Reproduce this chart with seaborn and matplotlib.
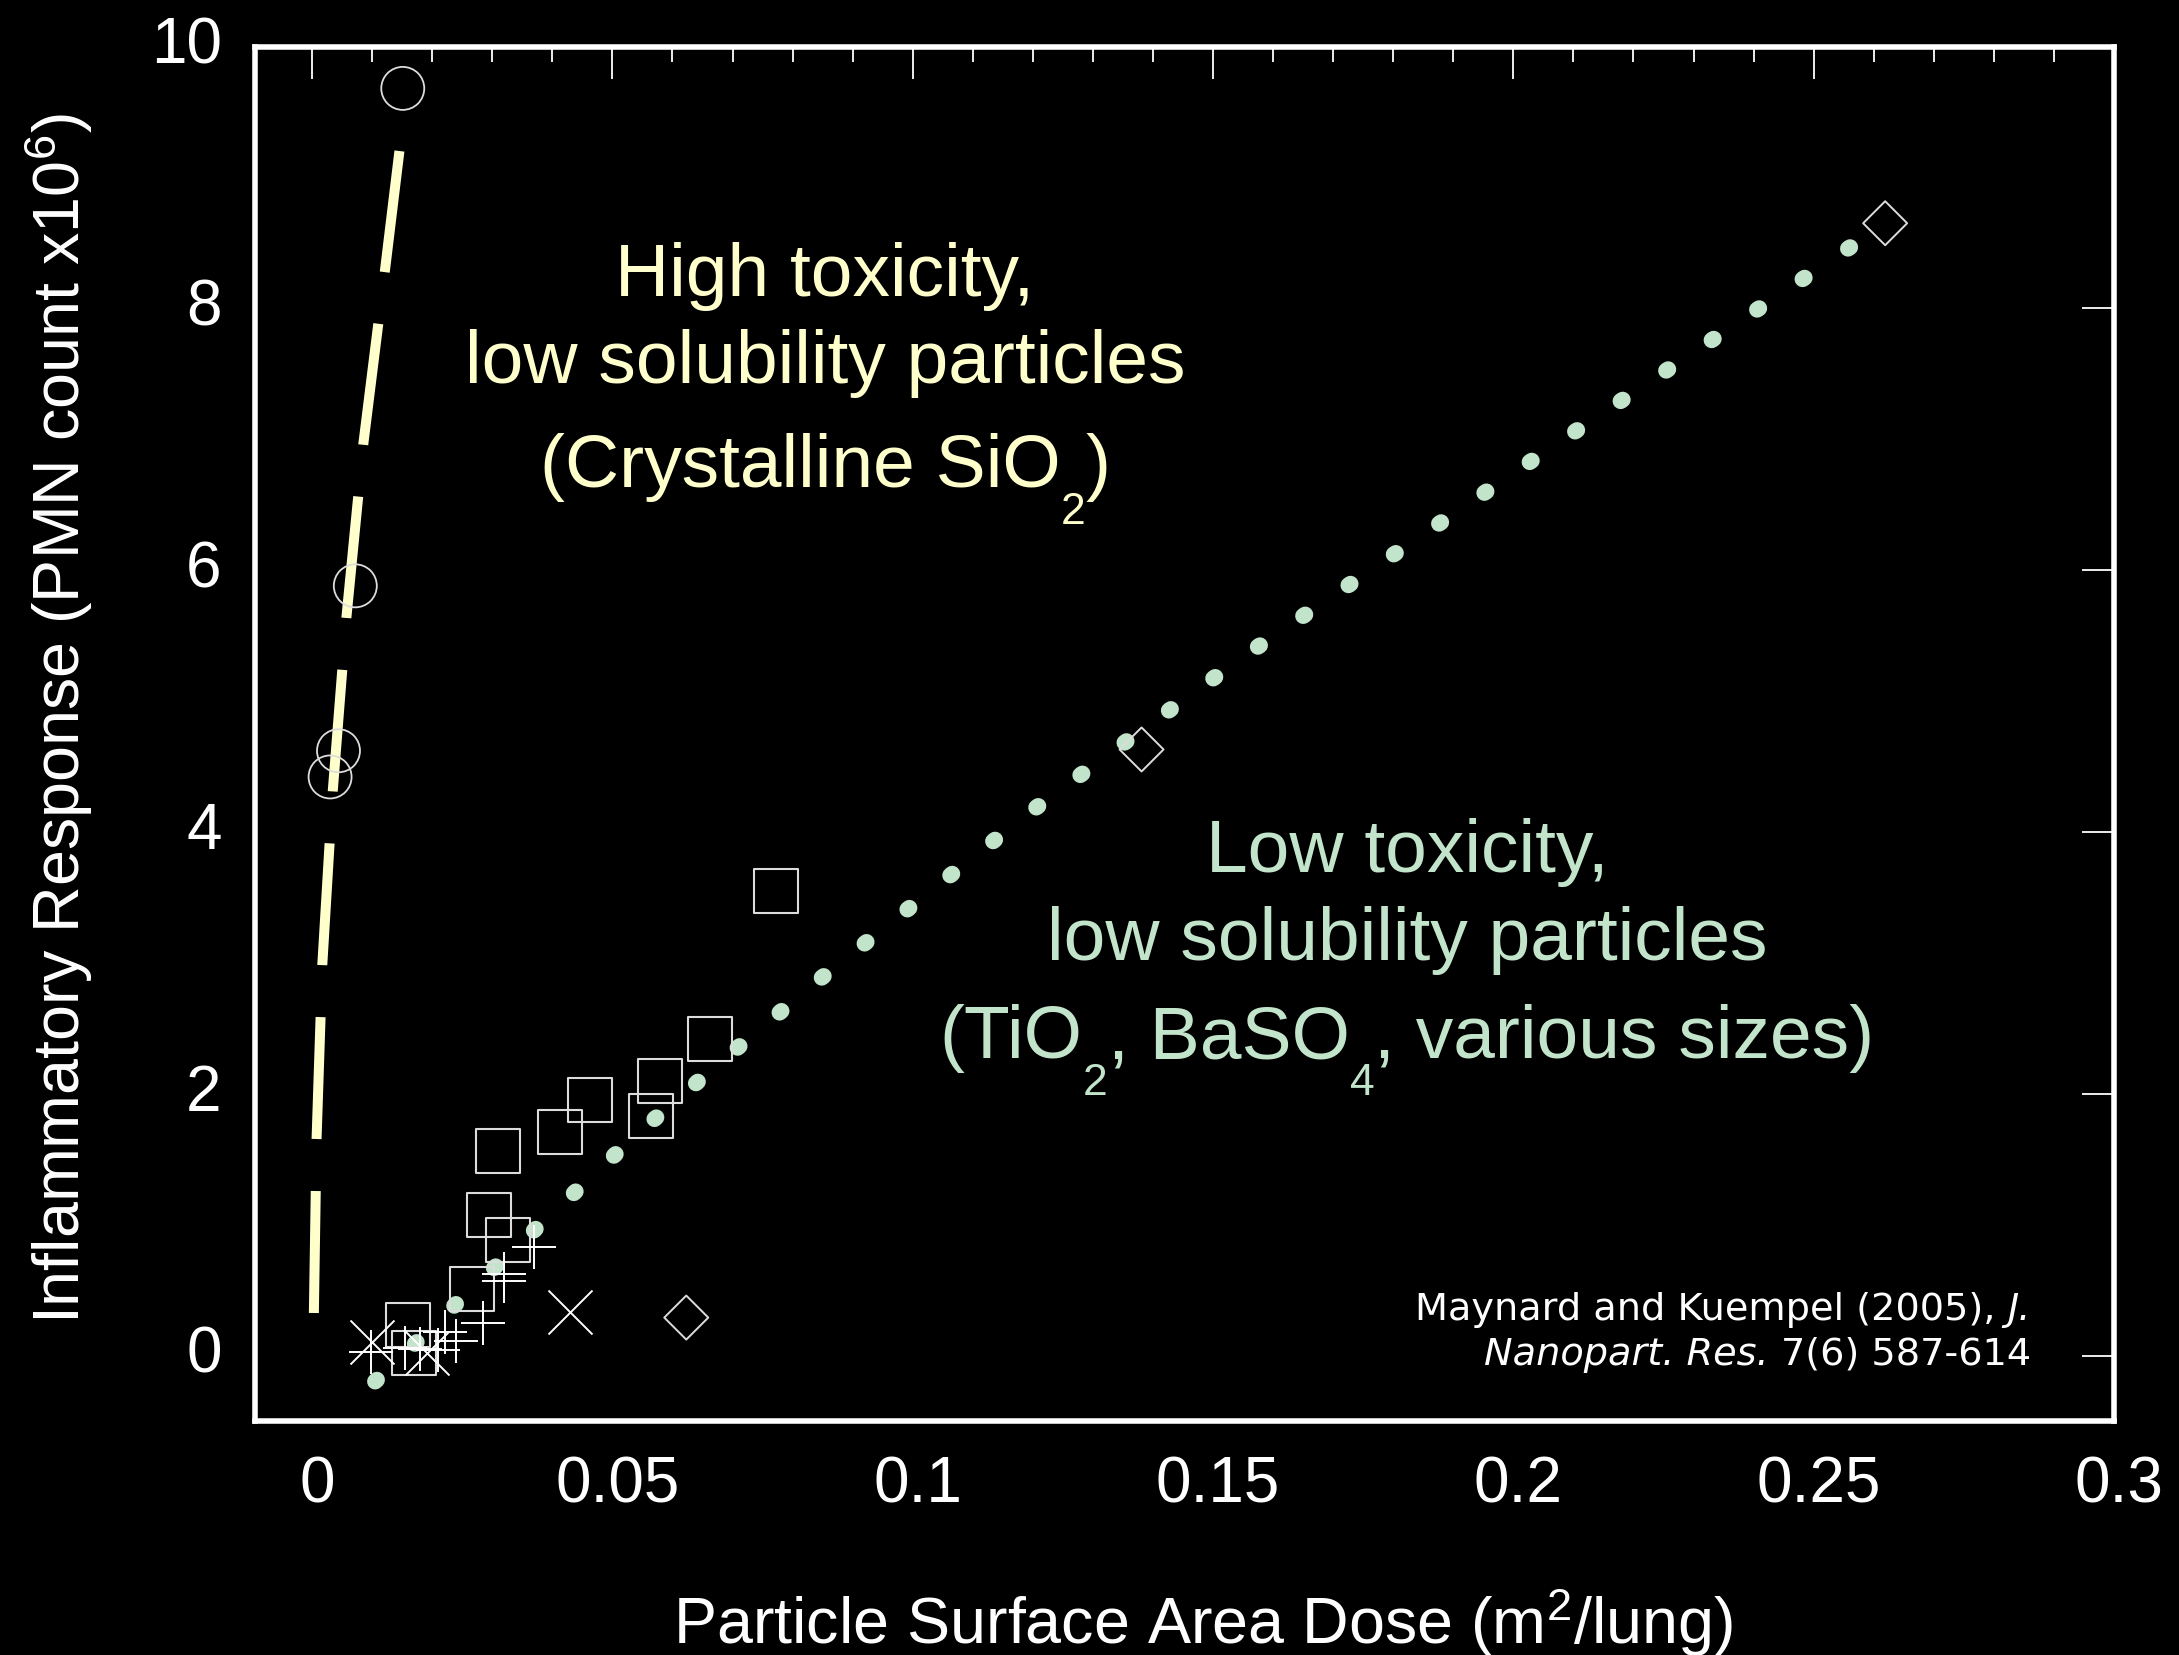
import matplotlib
matplotlib.use("Agg")
import numpy as np
import matplotlib.pyplot as plt
from matplotlib.ticker import MultipleLocator, FixedLocator, FixedFormatter
from matplotlib.transforms import ScaledTranslation
import seaborn as sns

# ---------------- data ----------------
# Crystalline SiO2 (circles) and its fit line
sio2_x = [0.0151, 0.0072, 0.0044, 0.0030]
sio2_y = [9.68, 5.88, 4.62, 4.42]
hightox_fit_x = [0.0003, 0.00075, 0.00171, 0.00344, 0.00572, 0.00855, 0.01215, 0.01464]
hightox_fit_y = [0.325, 1.654, 2.99, 4.31, 5.64, 6.97, 8.295, 9.237]

# low toxicity particles (squares, plus, cross, diamonds) and fit
square_x = [0.0772, 0.0663, 0.0580, 0.0463, 0.0565, 0.0412, 0.0310, 0.0294, 0.0326, 0.0266, 0.0160, 0.0169]
square_y = [3.55, 2.42, 2.10, 1.95, 1.83, 1.71, 1.56, 1.07, 0.88, 0.51, 0.23, 0.02]
plus_x = [0.0369, 0.0319, 0.0319, 0.0285, 0.0221, 0.0239, 0.0209, 0.0179, 0.0155, 0.0098]
plus_y = [0.83, 0.62, 0.57, 0.25, 0.18, 0.11, 0.04, 0.05, 0.06, 0.03]
cross_x = [0.0429, 0.0100, 0.0192]
cross_y = [0.33, 0.10, 0.02]
diamond_x = [0.2619, 0.1381, 0.0623]
diamond_y = [8.65, 4.63, 0.29]
lowtox_fit_x = [0.0105, 0.0179, 0.0255, 0.0396, 0.0543, 0.0686, 0.0833, 0.1189, 0.1340, 0.1552, 0.2064, 0.2276, 0.2565]
lowtox_fit_y = [-0.198, 0.124, 0.462, 1.07, 1.70, 2.265, 2.83, 4.13, 4.64, 5.344, 6.94, 7.59, 8.48]
lowtox_fit_dot_count = 35   # dots visible along the dotted fit line

x_ticks = [0, 0.05, 0.1, 0.15, 0.2, 0.25, 0.3]
x_tick_labels = ["0", "0.05", "0.1", "0.15", "0.2", "0.25", "0.3"]
y_ticks = [0, 2, 4, 6, 8, 10]
y_tick_labels = ["0", "2", "4", "6", "8", "10"]

# annotation lines: list of (text, "sub" or "") pieces
high_text = [
    [("High toxicity,", "")],
    [("low solubility particles", "")],
    [("(Crystalline SiO", ""), ("2", "sub"), (")", "")],
]
low_text = [
    [("Low toxicity,", "")],
    [("low solubility particles", "")],
    [("(TiO", ""), ("2", "sub"), (", BaSO", ""), ("4", "sub"), (", various sizes)", "")],
]
xlabel = r"Particle Surface Area Dose (m$^2$/lung)"
ylabel = r"Inflammatory Response (PMN count x10$^6$)"
cite_lines = [
    [("Maynard and Kuempel (2005),", "normal"), ("J.", "italic")],
    [("Nanopart. Res.", "italic"), ("7(6) 587-614", "normal")],
]

# ---------------- style ----------------
W, H = 2179, 1655
DPI = 100
sns.set_theme(style="dark", rc={
    "figure.facecolor": "black", "axes.facecolor": "black",
    "savefig.facecolor": "black", "axes.edgecolor": "white",
    "text.color": "white", "axes.labelcolor": "white",
    "xtick.color": "white", "ytick.color": "white", "axes.grid": False,
})
plt.rcParams["font.family"] = ["Liberation Sans", "DejaVu Sans"]
plt.rcParams["mathtext.fontset"] = "custom"
plt.rcParams["mathtext.rm"] = "Liberation Sans"
plt.rcParams["mathtext.it"] = "Liberation Sans:italic"
plt.rcParams["mathtext.bf"] = "Liberation Sans:bold"

YEL = "#FFFFCC"
MINT = "#C2E4CB"
GREY = "#DCDCDC"

fig = plt.figure(figsize=(W / DPI, H / DPI), dpi=DPI)
L, R, T, B = 255, 2114, 46.5, 1421
ax = fig.add_axes([L / W, 1 - B / H, (R - L) / W, (B - T) / H])
ax.set_facecolor("black")
ax.set_xlim(-0.0095, 0.3)
ax.set_ylim(-0.5, 10)

# fit lines
sns.lineplot(x=hightox_fit_x, y=hightox_fit_y, ax=ax, color=YEL, linewidth=7.2,
             linestyle=(0, (12.2, 5.2)), sort=False, estimator=None, errorbar=None, zorder=2)

# dotted fit: chunky dots spaced evenly along the curve
pts = ax.transData.transform(np.column_stack([lowtox_fit_x, lowtox_fit_y]))
curve_len_px = np.sum(np.hypot(*np.diff(pts, axis=0).T))
dot_lw_pt = 11.6
dot_lw_px = dot_lw_pt * DPI / 72
period = 0.997 * curve_len_px / (lowtox_fit_dot_count - 1) / dot_lw_px
on = 0.15
sns.lineplot(x=lowtox_fit_x, y=lowtox_fit_y, ax=ax, color=MINT, linewidth=dot_lw_pt,
             linestyle=(0, (on, period - on)), dash_capstyle="round",
             sort=False, estimator=None, errorbar=None, zorder=2)

# markers
sns.scatterplot(x=sio2_x, y=sio2_y, ax=ax, marker="o", s=958, color=GREY,
                facecolor="none", edgecolor=GREY, linewidth=1.3, zorder=3)
sns.scatterplot(x=square_x, y=square_y, ax=ax, marker="s", s=1003, color=GREY,
                facecolor="none", edgecolor=GREY, linewidth=1.5, zorder=3)
sns.scatterplot(x=diamond_x, y=diamond_y, ax=ax, marker="D", s=502, color=GREY,
                facecolor="none", edgecolor=GREY, linewidth=1.4, zorder=3)
sns.scatterplot(x=plus_x, y=plus_y, ax=ax, marker="+", s=1003, color="white",
                linewidth=1.4, zorder=4)
sns.scatterplot(x=cross_x, y=cross_y, ax=ax, marker="x", s=1003, color="white",
                linewidth=1.4, zorder=4)

# axes
ax.set_xlim(-0.0095, 0.3)
ax.set_ylim(-0.5, 10)
ax.xaxis.set_major_locator(FixedLocator(x_ticks))
ax.xaxis.set_major_formatter(FixedFormatter(x_tick_labels))
ax.xaxis.set_minor_locator(MultipleLocator(0.01))
ax.yaxis.set_major_locator(FixedLocator(y_ticks))
ax.yaxis.set_major_formatter(FixedFormatter(y_tick_labels))
ax.tick_params(which="both", direction="in", top=True, right=True, colors="white",
               labelsize=46)
ax.tick_params(which="major", length=23, width=1.3)
ax.tick_params(which="minor", length=11, width=1.3)
ax.tick_params(axis="x", which="major", pad=25)
ax.tick_params(axis="y", which="major", pad=24)
for sp in ax.spines.values():
    sp.set_color("white")
    sp.set_linewidth(4)
    sp.set_visible(True)

# small label nudges seen in the reference
for lab in ax.get_xticklabels():
    lab.set_transform(lab.get_transform() + ScaledTranslation(3.5 / 72, 0, fig.dpi_scale_trans))
for lab in ax.get_yticklabels():
    lab.set_transform(lab.get_transform() + ScaledTranslation(0, 4.5 / 72, fig.dpi_scale_trans))

ax.set_xlabel(xlabel, fontsize=46.5, color="white", va="baseline")
ax.xaxis.set_label_coords((1202.5 - L) / (R - L), (B - 1644) / (B - T))
ax.set_ylabel(ylabel, fontsize=46.5, color="white", va="baseline", ha="center",
              rotation=90, rotation_mode="anchor")
ax.yaxis.set_label_coords((80 - L) / (R - L), (B - 718.5) / (B - T))

# annotations
renderer = fig.canvas.get_renderer()


def px(xp, yp):
    return xp / W, 1 - yp / H


MAIN_FS, SUB_FS, SUB_DROP = 54, 32, 37


def centered_line(pieces, xc, yb, color):
    # measure, then place pieces left to right, centred on xc
    widths = []
    for txt, kind in pieces:
        fs = SUB_FS if kind == "sub" else MAIN_FS
        t = fig.text(0, 0, txt, fontsize=fs)
        widths.append(t.get_window_extent(renderer=renderer).width)
        t.remove()
    x = xc - sum(widths) / 2
    for (txt, kind), w in zip(pieces, widths):
        fs = SUB_FS if kind == "sub" else MAIN_FS
        y = yb + (SUB_DROP if kind == "sub" else 0)
        fig.text(*px(x, y), txt, color=color, fontsize=fs, ha="left", va="baseline")
        x += w


for line, yb in zip(high_text, [296, 383.5, 487]):
    centered_line(line, 825, yb, YEL)
for line, yb in zip(low_text, [872, 960, 1058]):
    centered_line(line, 1407, yb, MINT)

# citation (mixed upright / italic), right aligned
gap = 12
for pieces, yb in zip(cite_lines, [1320, 1365]):
    xr = 2031
    for txt, style in reversed(pieces):
        t = fig.text(*px(xr, yb), txt, fontsize=27.5, color="white", ha="right",
                     va="baseline", family="DejaVu Sans", style=style)
        bb = t.get_window_extent(renderer=renderer)
        xr = bb.x0 - gap

fig.savefig("out.png", dpi=DPI, facecolor="black")
